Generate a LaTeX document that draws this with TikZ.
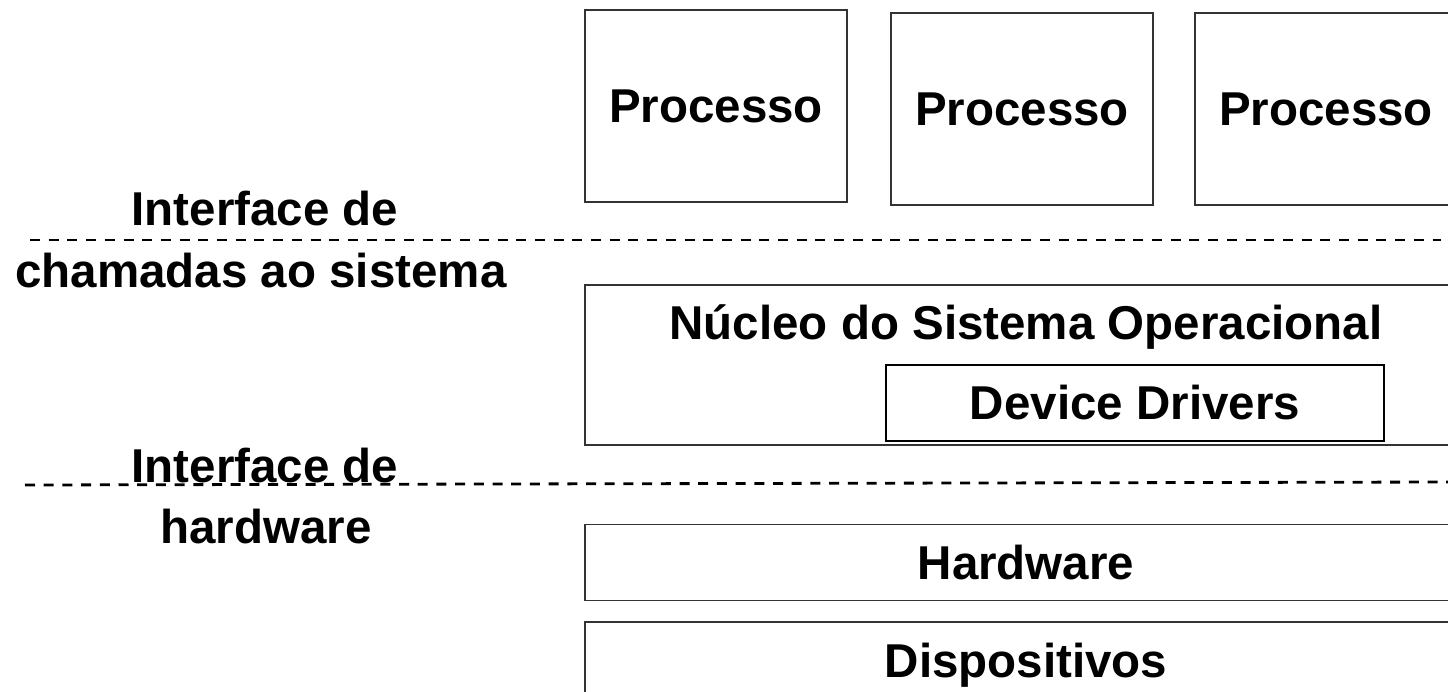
\documentclass[tikz,border=0pt]{standalone}
\usepackage{fontspec}
\setmainfont{Liberation Sans}
\begin{document}
\begin{tikzpicture}[x=1pt,y=-1pt,
  lbl/.style={font=\bfseries\fontsize{47.5}{57}\selectfont, inner sep=0pt},
  box/.style={draw=black!80, line width=1.3pt, rectangle, inner sep=0pt, lbl},
  drvbox/.style={draw=black, line width=2.6pt, rectangle, inner sep=0pt, lbl},
  sep/.style={dash pattern=on 10pt off 8.7pt, line width=2.8pt}]
\clip (0,0) rectangle (1448,692);
\useasboundingbox (0,0) rectangle (1448,692);
% processes
\node[box, minimum width=262pt, minimum height=192pt] (p1) at (716,106) {Processo};
\node[box, minimum width=262pt, minimum height=192pt] (p2) at (1022,109) {Processo};
\node[box, minimum width=262pt, minimum height=192pt] (p3) at (1326,109) {Processo};
% kernel
\node[box, minimum width=882pt, minimum height=160pt] (nucleo) at (1026,365) {};
\node[lbl, anchor=base] (nucleot) at (1026,340) {Núcleo do Sistema Operacional};
\node[drvbox, minimum width=498pt, minimum height=76pt] (drv) at (1135,403) {Device Drivers};
% hardware
\node[box, minimum width=882pt, minimum height=76pt] (hw) at (1026,562.5) {Hardware};
\node[box, minimum width=882pt, minimum height=86pt] (dev) at (1026,665) {Dispositivos};
% interface lines
\coordinate (s1l) at (30,240);
\coordinate (s1r) at (1441,240);
\draw[sep] (s1l) -- (s1r);
\coordinate (s2l) at (25,485);
\coordinate (s2r) at (1448,482);
\draw[sep] (s2l) -- (s2r);
% labels
\node[lbl, anchor=base] (i1a) at (265,226) {Interface de};
\node[lbl, anchor=base] (i1b) at (261,288) {chamadas ao sistema};
\node[lbl, anchor=base] (i2a) at (265,482) {Interface de};
\node[lbl, anchor=base] (i2b) at (266,543) {hardware};
\end{tikzpicture}
\end{document}
